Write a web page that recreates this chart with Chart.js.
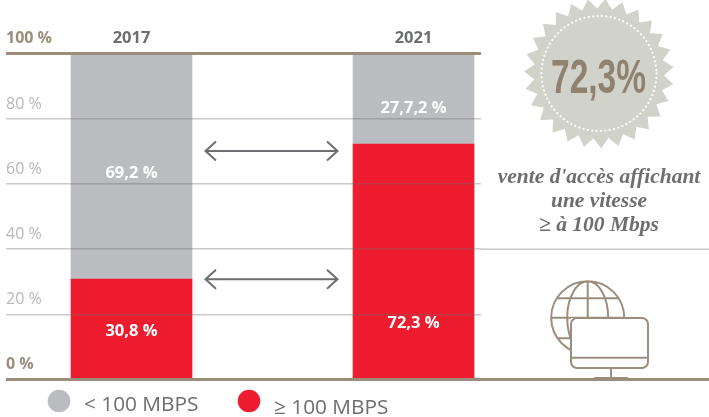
<!DOCTYPE html>
<html><head><meta charset="utf-8">
<style>html,body{margin:0;padding:0;background:#fff}#w{position:relative;width:709px;height:417px}</style>
<script src="https://cdn.jsdelivr.net/npm/chart.js@4"></script></head>
<body><div id="w"><canvas id="c" width="709" height="417"></canvas></div>
<script>
const years = [2017, 2021];
const under100 = [69.2, 27.7];
const over100 = [30.8, 72.3];
const seriesNames = ['< 100 MBPS', '≥ 100 MBPS'];
const valueLabels = [['69,2 %', '27,7,2 %'], ['30,8 %', '72,3 %']];
const labelAnchors = [[63.2, 83.2], [14.9, 17.3]];
const yTicks = [0, 20, 40, 60, 80, 100];
const calloutValue = '72,3%';
const calloutLines = ["vente d'accès affichant", 'une vitesse', '≥ à 100 Mbps'];

const TAN = '#9a8d7c', GREY = '#bbbcbf', RED = '#ed1c2e', DARK = '#6d6e71';
const SANS = '"Open Sans", sans-serif';
const isEnd = c => c.tick && (c.tick.value === 0 || c.tick.value === 100);

function arrow(ctx, x1, x2, y) {
  ctx.save(); ctx.strokeStyle = DARK; ctx.lineWidth = 2; ctx.beginPath();
  ctx.moveTo(x1, y); ctx.lineTo(x2, y);
  ctx.moveTo(x1 + 10.5, y - 9.5); ctx.lineTo(x1, y); ctx.lineTo(x1 + 10.5, y + 9.5);
  ctx.moveTo(x2 - 10.5, y - 9.5); ctx.lineTo(x2, y); ctx.lineTo(x2 - 10.5, y + 9.5);
  ctx.stroke(); ctx.restore();
}
function star(ctx) {
  const cx = 599, cy = 73.5, R = 75, r = 65, n = 27, rot = -8.4 * Math.PI / 180;
  ctx.save(); ctx.fillStyle = '#d1d2c9'; ctx.beginPath();
  for (let i = 0; i < 2 * n; i++) {
    const a = -Math.PI / 2 + rot + i * Math.PI / n, q = i % 2 ? r : R;
    ctx.lineTo(cx + q * Math.cos(a), cy + q * Math.sin(a));
  }
  ctx.closePath(); ctx.fill();
  ctx.strokeStyle = '#fff'; ctx.lineWidth = 2.2; ctx.lineCap = 'round'; ctx.setLineDash([0.01, 4.4]);
  ctx.beginPath(); ctx.arc(cx, cy, 57.5, 0, 2 * Math.PI); ctx.stroke();
  ctx.restore();
  ctx.save(); ctx.fillStyle = '#8f8271'; ctx.textAlign = 'center'; ctx.textBaseline = 'alphabetic';
  ctx.font = 'bold 48px "Liberation Sans Narrow", "Liberation Sans"';
  const w = ctx.measureText(calloutValue).width;
  ctx.translate(598.5, 93); ctx.scale(95 / w, 1.0); ctx.fillText(calloutValue, 0, 0); ctx.restore();
  ctx.save(); ctx.fillStyle = DARK; ctx.textAlign = 'center'; ctx.textBaseline = 'middle';
  ctx.font = 'italic bold 21.5px "Liberation Serif", serif';
  calloutLines.forEach((t, i) => ctx.fillText(t, 599, 177 + i * 24));
  ctx.restore();
}
function icon(ctx) {
  const cx = 587.7, cy = 317.7, R = 36.5;
  ctx.save(); ctx.strokeStyle = TAN; ctx.lineWidth = 2;
  ctx.save();
  ctx.beginPath(); ctx.rect(500, 260, 209, 120); ctx.rect(571, 318, 77, 50); ctx.clip('evenodd');
  ctx.beginPath();
  ctx.arc(cx, cy, R, 0, 2 * Math.PI);
  ctx.moveTo(cx + 20.5, cy); ctx.ellipse(cx, cy, 20.5, R, 0, 0, 2 * Math.PI);
  ctx.moveTo(cx, cy - R); ctx.lineTo(cx, cy + R);
  ctx.moveTo(cx - R, cy); ctx.lineTo(cx + R, cy);
  ctx.moveTo(cx - 30, cy - 19.5); ctx.lineTo(cx + 30, cy - 19.5);
  ctx.moveTo(cx - 30, cy + 20.5); ctx.lineTo(cx + 30, cy + 20.5);
  ctx.stroke(); ctx.restore();
  ctx.beginPath(); ctx.roundRect(571, 318, 77, 50, 6);
  ctx.moveTo(571, 357.7); ctx.lineTo(648, 357.7);
  ctx.moveTo(611, 368); ctx.lineTo(611, 378);
  ctx.moveTo(594, 378); ctx.lineTo(628, 378);
  ctx.stroke(); ctx.restore();
}

const extras = {
  id: 'extras',
  afterDraw(chart) {
    const { ctx, scales: { x, y } } = chart;
    ctx.save();
    ctx.strokeStyle = '#c9c8c6'; ctx.lineWidth = 1.5; ctx.beginPath();
    ctx.moveTo(chart.chartArea.right, y.getPixelForValue(40)); ctx.lineTo(709, y.getPixelForValue(40)); ctx.stroke();
    ctx.strokeStyle = TAN; ctx.lineWidth = 3; ctx.beginPath();
    ctx.moveTo(chart.chartArea.right, y.getPixelForValue(0)); ctx.lineTo(709, y.getPixelForValue(0)); ctx.stroke();
    ctx.fillStyle = '#fff'; ctx.font = 'bold 16.5px ' + SANS; ctx.textAlign = 'center'; ctx.textBaseline = 'middle';
    valueLabels.forEach((row, s) => row.forEach((t, i) =>
      ctx.fillText(t, x.getPixelForValue(years[i]), y.getPixelForValue(labelAnchors[s][i]))));
    ctx.textAlign = 'left'; ctx.textBaseline = 'alphabetic'; ctx.font = '20.8px ' + SANS;
    [[GREY, 59, 401, 84, 411], [RED, 249, 401, 274, 414]].forEach(([col, cx, cy, tx, ty], i) => {
      ctx.fillStyle = col; ctx.beginPath(); ctx.arc(cx, cy, 11.3, 0, 2 * Math.PI); ctx.fill();
      ctx.fillStyle = DARK; ctx.fillText(seriesNames[i], tx, ty);
    });
    ctx.restore();
    arrow(ctx, 205.5, 337.5, 151);
    arrow(ctx, 205.5, 337.5, 279.3);
    star(ctx);
    icon(ctx);
  }
};

new Chart(document.getElementById('c'), {
  type: 'bar',
  data: {
    datasets: [
      { label: seriesNames[1], backgroundColor: RED, barThickness: 121, data: years.map((v, i) => ({ x: v, y: over100[i] })) },
      { label: seriesNames[0], backgroundColor: GREY, barThickness: 121, data: years.map((v, i) => ({ x: v, y: under100[i] })) }
    ]
  },
  options: {
    responsive: false, animation: false,
    layout: { padding: { left: 6, right: 228, top: 22, bottom: 37.5 } },
    plugins: { legend: { display: false }, tooltip: { enabled: false } },
    scales: {
      x: {
        type: 'linear', position: 'top', stacked: true, offset: false,
        min: 2015.22, max: 2021.957,
        afterBuildTicks: s => { s.ticks = years.map(v => ({ value: v })); },
        grid: { display: false, drawTicks: false }, border: { display: false },
        ticks: { color: DARK, font: { family: SANS, size: 16.5, weight: 'bold' }, padding: 6, autoSkip: false, maxRotation: 0, callback: v => String(v) }
      },
      y: {
        stacked: true, min: 0, max: 100,
        afterBuildTicks: s => { s.ticks = yTicks.map(v => ({ value: v })); },
        border: { display: false },
        grid: {
          z: 1, drawTicks: false,
          color: c => isEnd(c) ? TAN : 'rgba(110,108,105,0.36)',
          lineWidth: c => isEnd(c) ? 3 : 1.5
        },
        ticks: {
          mirror: true, padding: 0, labelOffset: -15,
          callback: v => v + ' %',
          color: c => isEnd(c) ? TAN : '#b7b7b7',
          font: c => ({ family: SANS, size: 16, weight: isEnd(c) ? 'bold' : 'normal' })
        }
      }
    }
  },
  plugins: [extras]
});
</script></body></html>
